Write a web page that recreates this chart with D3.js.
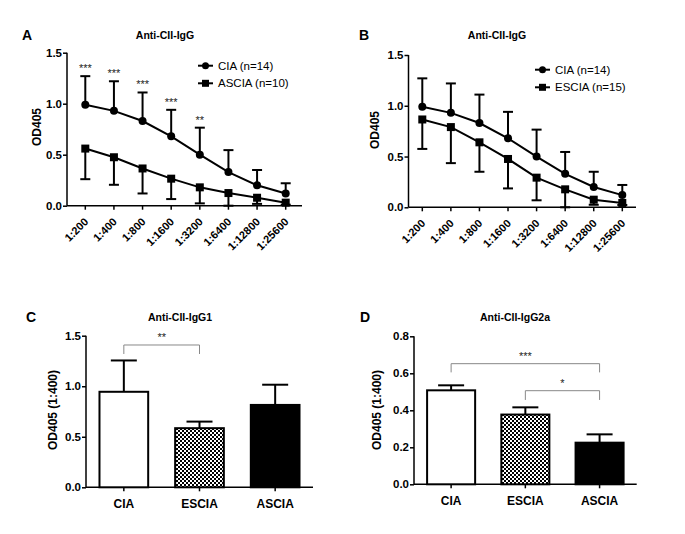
<!DOCTYPE html>
<html>
<head>
<meta charset="utf-8">
<script src="https://cdn.jsdelivr.net/npm/d3@7"></script>
<style>
  body { margin: 0; background: #fff; }
  svg { font-family: "Liberation Sans", Arial, sans-serif; }
</style>
</head>
<body>
<svg id="chart" width="685" height="534"></svg>
<script>
// --- data ---
const dilutions = ["1:200", "1:400", "1:800", "1:1600", "1:3200", "1:6400", "1:12800", "1:25600"];
const ciaMean = [0.99, 0.93, 0.83, 0.68, 0.50, 0.33, 0.20, 0.12];
const ciaSD = [0.28, 0.29, 0.28, 0.26, 0.265, 0.215, 0.15, 0.10];
const asciaMean = [0.56, 0.475, 0.365, 0.265, 0.18, 0.124, 0.078, 0.03];
const asciaSD = [0.30, 0.27, 0.245, 0.20, 0.157, 0.124, 0.06, 0.02];
const esciaMean = [0.865, 0.79, 0.64, 0.476, 0.292, 0.177, 0.075, 0.043];
const esciaSD = [0.29, 0.355, 0.29, 0.29, 0.223, 0.177, 0.05, 0.02];
const starsA = ["***", "***", "***", "***", "**", "", "", ""];

const groups = ["CIA", "ESCIA", "ASCIA"];
const igg1Mean = [0.945, 0.585, 0.815];
const igg1Err = [0.31, 0.065, 0.20];
const igg2aMean = [0.508, 0.377, 0.225];
const igg2aErr = [0.027, 0.039, 0.045];
const igg1Brackets = [{ from: "CIA", to: "ESCIA", top: 1.408, foot: 1.319, label: "**" }];
const igg2aBrackets = [
  { from: "CIA", to: "ASCIA", top: 0.652, foot: 0.605, label: "***" },
  { from: "ESCIA", to: "ASCIA", top: 0.506, foot: 0.456, label: "*" }
];

const svg = d3.select("#chart");
const defs = svg.append("defs");
const checker = defs.append("pattern")
    .attr("id", "checker")
    .attr("width", 4).attr("height", 4)
    .attr("patternUnits", "userSpaceOnUse");
checker.append("rect").attr("width", 4).attr("height", 4).attr("fill", "#fff");
checker.append("rect").attr("width", 2).attr("height", 2).attr("fill", "#000");
checker.append("rect").attr("x", 2).attr("y", 2).attr("width", 2).attr("height", 2).attr("fill", "#000");

// shared y axis + frame lines
function drawAxes(p, y) {
  const g = svg.append("g");
  const ticks = d3.range(0, p.yMax + 1e-9, p.yStep);
  g.append("g")
      .attr("transform", `translate(${p.axisX},0)`)
      .call(d3.axisLeft(y).tickValues(ticks).tickFormat(d3.format(".1f")).tickSize(4).tickSizeOuter(0))
      .call(a => a.select(".domain").remove())
      .call(a => a.selectAll("line").attr("stroke", "#000").attr("stroke-width", 1.5))
      .call(a => a.selectAll("text").attr("font-size", 11.5).attr("font-weight", "bold").attr("fill", "#000").attr("x", -5));
  g.append("line")
      .attr("x1", p.axisX).attr("x2", p.axisX)
      .attr("y1", y(0)).attr("y2", y(p.yMax))
      .attr("stroke", "#000").attr("stroke-width", 1.5);
  g.append("line")
      .attr("x1", p.axisX).attr("x2", p.right)
      .attr("y1", y(0)).attr("y2", y(0))
      .attr("stroke", "#000").attr("stroke-width", 1.5);

  svg.append("text")
      .attr("x", p.letterX).attr("y", p.titleY)
      .attr("dy", "0.35em")
      .attr("font-size", 14).attr("font-weight", "bold")
      .text(p.letter);
  svg.append("text")
      .attr("x", p.titleX).attr("y", p.titleY)
      .attr("dy", "0.35em").attr("text-anchor", "middle")
      .attr("font-size", 10.5).attr("font-weight", "bold")
      .text(p.title);
  svg.append("text")
      .attr("transform", `translate(${p.ylabX},${p.ylabY}) rotate(-90)`)
      .attr("dy", "0.35em").attr("text-anchor", "middle")
      .attr("font-size", 12).attr("font-weight", "bold")
      .text(p.ylab);
}

function linePanel(p) {
  const y = d3.scaleLinear().domain([0, p.yMax]).range([p.bottom, p.top]);
  const x = d3.scalePoint().domain(dilutions).range(p.catRange);
  drawAxes(p, y);

  // x ticks + rotated labels
  const xa = svg.append("g");
  dilutions.forEach(d => {
    xa.append("line")
        .attr("x1", x(d)).attr("x2", x(d))
        .attr("y1", p.bottom).attr("y2", p.bottom + 4)
        .attr("stroke", "#000").attr("stroke-width", 1.5);
    xa.append("text")
        .attr("transform", `translate(${x(d) + 1},${p.bottom + 14}) rotate(-45)`)
        .attr("text-anchor", "end").attr("dy", "0.35em")
        .attr("font-size", 11).attr("font-weight", "bold")
        .text(d);
  });

  const line = d3.line().x((d, i) => x(dilutions[i])).y(d => y(d));

  p.series.forEach(s => {
    const sg = svg.append("g");
    // error bars
    s.mean.forEach((m, i) => {
      const e = m + s.dir * s.sd[i];
      const ye = y(Math.max(0, e));
      sg.append("line")
          .attr("x1", x(dilutions[i])).attr("x2", x(dilutions[i]))
          .attr("y1", y(m)).attr("y2", ye)
          .attr("stroke", "#000").attr("stroke-width", 2);
      sg.append("line")
          .attr("x1", x(dilutions[i]) - 5).attr("x2", x(dilutions[i]) + 5)
          .attr("y1", ye).attr("y2", ye)
          .attr("stroke", "#000").attr("stroke-width", 2);
    });
    sg.append("path")
        .attr("d", line(s.mean))
        .attr("fill", "none").attr("stroke", "#000").attr("stroke-width", 2);
    s.mean.forEach((m, i) => {
      if (s.marker === "circle") {
        sg.append("circle").attr("cx", x(dilutions[i])).attr("cy", y(m)).attr("r", 4).attr("fill", "#000");
      } else {
        sg.append("rect").attr("x", x(dilutions[i]) - 4).attr("y", y(m) - 4).attr("width", 8).attr("height", 8).attr("fill", "#000");
      }
    });
  });

  if (p.stars) {
    p.stars.forEach((st, i) => {
      if (!st) return;
      svg.append("text")
          .attr("x", x(dilutions[i])).attr("y", y(ciaMean[i] + ciaSD[i]) - 4)
          .attr("text-anchor", "middle")
          .attr("font-size", 11).attr("fill", "#222")
          .text(st);
    });
  }

  // legend
  const lg = svg.append("g");
  p.series.forEach((s, i) => {
    const ly = p.legY + i * 17.6;
    lg.append("line")
        .attr("x1", p.legX).attr("x2", p.legX + 15)
        .attr("y1", ly).attr("y2", ly)
        .attr("stroke", "#000").attr("stroke-width", 2);
    if (s.marker === "circle") {
      lg.append("circle").attr("cx", p.legX + 7.5).attr("cy", ly).attr("r", 3.5).attr("fill", "#000");
    } else {
      lg.append("rect").attr("x", p.legX + 4).attr("y", ly - 3.5).attr("width", 7).attr("height", 7).attr("fill", "#000");
    }
    lg.append("text")
        .attr("x", p.legX + 20).attr("y", ly)
        .attr("dy", "0.35em")
        .attr("font-size", 11.5)
        .text(s.name);
  });
}

function barPanel(p) {
  const y = d3.scaleLinear().domain([0, p.yMax]).range([p.bottom, p.top]);
  const x = d3.scaleBand().domain(groups).range([p.axisX, p.right]).paddingInner(p.pad).paddingOuter(p.pad / 2);
  drawAxes(p, y);

  const fills = ["#fff", "url(#checker)", "#000"];
  const bg = svg.append("g");
  groups.forEach((gname, i) => {
    const cx = x(gname) + x.bandwidth() / 2;
    const top = y(p.mean[i] + p.err[i]);
    bg.append("line")
        .attr("x1", cx).attr("x2", cx)
        .attr("y1", y(p.mean[i])).attr("y2", top)
        .attr("stroke", "#000").attr("stroke-width", 2);
    bg.append("line")
        .attr("x1", cx - 13).attr("x2", cx + 13)
        .attr("y1", top).attr("y2", top)
        .attr("stroke", "#000").attr("stroke-width", 2);
    bg.append("rect")
        .attr("x", x(gname) + 1).attr("y", y(p.mean[i]))
        .attr("width", x.bandwidth() - 2).attr("height", y(0) - y(p.mean[i]))
        .attr("fill", fills[i]).attr("stroke", "#000").attr("stroke-width", 2);
    bg.append("line")
        .attr("x1", cx).attr("x2", cx)
        .attr("y1", p.bottom).attr("y2", p.bottom + 4)
        .attr("stroke", "#000").attr("stroke-width", 1.5);
    bg.append("text")
        .attr("x", cx).attr("y", p.bottom + 16)
        .attr("dy", "0.35em").attr("text-anchor", "middle")
        .attr("font-size", 12).attr("font-weight", "bold")
        .text(gname);
  });

  p.brackets.forEach(b => {
    const x1 = x(b.from) + x.bandwidth() / 2;
    const x2 = x(b.to) + x.bandwidth() / 2;
    svg.append("path")
        .attr("d", `M${x1},${y(b.foot)}V${y(b.top)}H${x2}V${y(b.foot)}`)
        .attr("fill", "none").attr("stroke", "#888").attr("stroke-width", 1);
    svg.append("text")
        .attr("x", (x1 + x2) / 2).attr("y", y(b.top) - 4)
        .attr("text-anchor", "middle")
        .attr("font-size", 11).attr("fill", "#222")
        .text(b.label);
  });
}

linePanel({
  letter: "A", letterX: 22, title: "Anti-CII-IgG", titleX: 165, titleY: 35,
  ylab: "OD405", ylabX: 37, ylabY: 127,
  axisX: 67, right: 302, top: 52.7, bottom: 205.7, yMax: 1.5, yStep: 0.5,
  catRange: [85.3, 285.7],
  legX: 198, legY: 65.7,
  stars: starsA,
  series: [
    { name: "CIA (n=14)", mean: ciaMean, sd: ciaSD, dir: 1, marker: "circle" },
    { name: "ASCIA (n=10)", mean: asciaMean, sd: asciaSD, dir: -1, marker: "square" }
  ]
});

linePanel({
  letter: "B", letterX: 359, title: "Anti-CII-IgG", titleX: 497, titleY: 35,
  ylab: "OD405", ylabX: 375, ylabY: 130,
  axisX: 408.5, right: 636, top: 55, bottom: 207.3, yMax: 1.5, yStep: 0.5,
  catRange: [422.3, 622.3],
  legX: 535, legY: 69.7,
  series: [
    { name: "CIA (n=14)", mean: ciaMean, sd: ciaSD, dir: 1, marker: "circle" },
    { name: "ESCIA (n=15)", mean: esciaMean, sd: esciaSD, dir: -1, marker: "square" }
  ]
});

barPanel({
  letter: "C", letterX: 26, title: "Anti-CII-IgG1", titleX: 180, titleY: 317,
  ylab: "OD405 (1:400)", ylabX: 53, ylabY: 410,
  axisX: 86, right: 313, top: 335.7, bottom: 487.3, yMax: 1.5, yStep: 0.5, pad: 0.33,
  mean: igg1Mean, err: igg1Err, brackets: igg1Brackets
});

barPanel({
  letter: "D", letterX: 360, title: "Anti-CII-IgG2a", titleX: 515, titleY: 317,
  ylab: "OD405 (1:400)", ylabX: 377, ylabY: 410,
  axisX: 414, right: 636.7, top: 336.3, bottom: 484.3, yMax: 0.8, yStep: 0.2, pad: 0.326,
  mean: igg2aMean, err: igg2aErr, brackets: igg2aBrackets
});
</script>
</body>
</html>
